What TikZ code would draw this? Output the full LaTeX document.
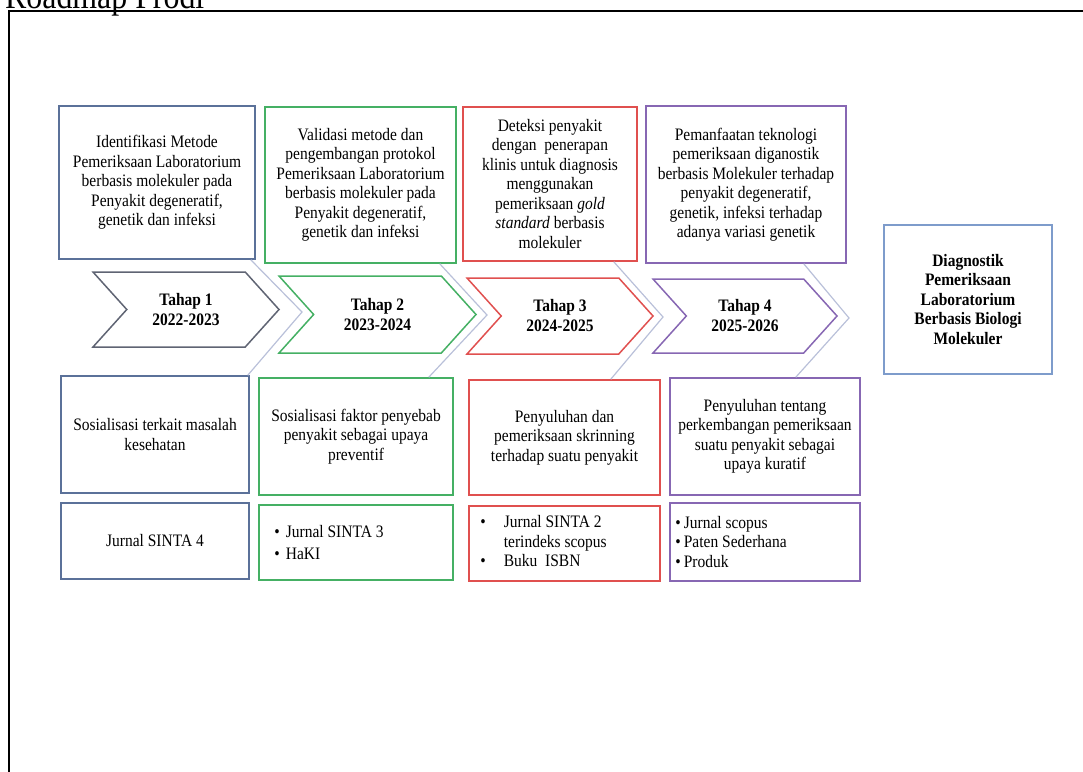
\documentclass[tikz,border=0pt]{standalone}
\usepackage{fontspec}
\setmainfont{Liberation Serif}[FakeStretch=0.885]
\usetikzlibrary{shapes.symbols,positioning}

\definecolor{cblue}{HTML}{5B7199}
\definecolor{cgray}{HTML}{5F6473}
\definecolor{cgreen}{HTML}{45B064}
\definecolor{cred}{HTML}{E0504F}
\definecolor{cpurple}{HTML}{8767B3}
\definecolor{clight}{HTML}{7E9CCB}
\definecolor{clink}{HTML}{B9C0D9}

\begin{document}
\begin{tikzpicture}[x=1pt,y=-1pt]

% definitions
\tikzstyle{textbox} = [rectangle, draw=black, line width=1.5pt, align=center, inner sep=0pt, font=\fontsize{17.5}{19.5}\selectfont]

\tikzstyle{stage} = [signal, signal from=west, signal to=east, signal pointer angle=96, draw=black, line width=1.5pt, align=center, inner sep=0pt, font=\fontsize{17.5}{20}\selectfont\bfseries]

\tikzstyle{listtext} = [align=left, inner sep=0pt, font=\fontsize{17.5}{19.5}\selectfont]

\tikzstyle{link} = [draw=clink, line width=1.2pt]

\useasboundingbox (0,0) rectangle (1083,771);
\clip (0,0) rectangle (1083,771);

% page frame and title
\node (title) [anchor=base west, inner sep=0pt, font=\fontsize{36}{40}\selectfont] at (5,9) {Roadmap Prodi};
\draw [line width=2pt] (9,11) rectangle (1110,800);

% the roadmap
\node (t1) [textbox, draw=cblue, minimum width=196pt, minimum height=153pt] at (157,182.5) {Identifikasi Metode\\Pemeriksaan Laboratorium\\berbasis molekuler pada\\Penyakit degeneratif,\\genetik dan infeksi};

\node (t2) [textbox, draw=cgreen, minimum width=191pt, minimum height=156pt] at (360.5,185) {Validasi metode dan\\pengembangan protokol\\Pemeriksaan Laboratorium\\berbasis molekuler pada\\Penyakit degeneratif,\\genetik dan infeksi};

\node (t3) [textbox, draw=cred, minimum width=174pt, minimum height=154pt] at (550,184) {Deteksi penyakit\\dengan\ \ penerapan\\klinis untuk diagnosis\\menggunakan\\pemeriksaan \textit{gold}\\\textit{standard} berbasis\\molekuler};

\node (t4) [textbox, draw=cpurple, minimum width=200pt, minimum height=157pt] at (746,184.5) {Pemanfaatan teknologi\\pemeriksaan diganostik\\berbasis Molekuler terhadap\\penyakit degeneratif,\\genetik, infeksi terhadap\\adanya variasi genetik};

\node (s1) [stage, draw=cgray, minimum width=186pt, minimum height=75pt] at (186,309.5) {Tahap 1\\2022-2023};

\node (s2) [stage, draw=cgreen, minimum width=197pt, minimum height=77pt] at (377.5,314.5) {Tahap 2\\2023-2024};

\node (s3) [stage, draw=cred, minimum width=186pt, minimum height=76pt] at (560,316) {Tahap 3\\2024-2025};

\node (s4) [stage, draw=cpurple, minimum width=184pt, minimum height=74pt] at (745,316) {Tahap 4\\2025-2026};

\node (goal) [textbox, draw=clight, font=\fontsize{17.5}{19.5}\selectfont\bfseries, minimum width=168pt, minimum height=149pt] at (968,299.5) {Diagnostik\\Pemeriksaan\\Laboratorium\\Berbasis Biologi\\Molekuler};

\node (b1) [textbox, draw=cblue, minimum width=188pt, minimum height=117pt] at (155,434.5) {Sosialisasi terkait masalah\\kesehatan};

\node (b2) [textbox, draw=cgreen, minimum width=194pt, minimum height=117pt] at (356,436.5) {Sosialisasi faktor penyebab\\penyakit sebagai upaya\\preventif};

\node (b3) [textbox, draw=cred, minimum width=191pt, minimum height=115pt] at (564.5,437.5) {Penyuluhan dan\\pemeriksaan skrinning\\terhadap suatu penyakit};

\node (b4) [textbox, draw=cpurple, minimum width=190pt, minimum height=117pt] at (765,436.5) {Penyuluhan tentang\\perkembangan pemeriksaan\\suatu penyakit sebagai\\upaya kuratif};

\node (o1) [textbox, draw=cblue, minimum width=188pt, minimum height=76pt] at (155,541) {Jurnal SINTA 4};

\node (o2) [textbox, draw=cgreen, minimum width=194pt, minimum height=75pt] at (356,542.5) {};
\node (o2list) [listtext, font=\fontsize{17.5}{22}\selectfont, anchor=west] at ([xshift=16pt]o2.west) {\textbullet\hspace{6pt}Jurnal SINTA 3\\\textbullet\hspace{6pt}HaKI};

\node (o3) [textbox, draw=cred, minimum width=191pt, minimum height=75pt] at (564.5,543.5) {};
\node (o3list) [listtext, anchor=west] at ([xshift=12pt]o3.west) {\begin{tabular}{@{}l@{\hspace{18pt}}l@{}}\textbullet & Jurnal SINTA 2\\ & terindeks scopus\\\textbullet & Buku\ \ ISBN\end{tabular}};

\node (o4) [textbox, draw=cpurple, minimum width=190pt, minimum height=78pt] at (765,542) {};
\node (o4list) [listtext, anchor=west] at ([xshift=6pt]o4.west) {\textbullet\hspace{3pt}Jurnal scopus\\\textbullet\hspace{3pt}Paten Sederhana\\\textbullet\hspace{3pt}Produk};

% links between the stages
\coordinate (k1) at (302,312);
\coordinate (k2) at (487,315);
\coordinate (k3) at (663,317);
\coordinate (k4) at (849,318);

\draw [link] ([xshift=-5pt]t1.south east) -- (k1) -- ([xshift=-2pt]b1.north east);
\draw [link] ([xshift=-17pt]t2.south east) -- (k2) -- ([xshift=-25pt]b2.north east);
\draw [link] ([xshift=-24pt]t3.south east) -- (k3) -- ([xshift=-50pt]b3.north east);
\draw [link] ([xshift=-43pt]t4.south east) -- (k4) -- ([xshift=-65pt]b4.north east);

\end{tikzpicture}
\end{document}
